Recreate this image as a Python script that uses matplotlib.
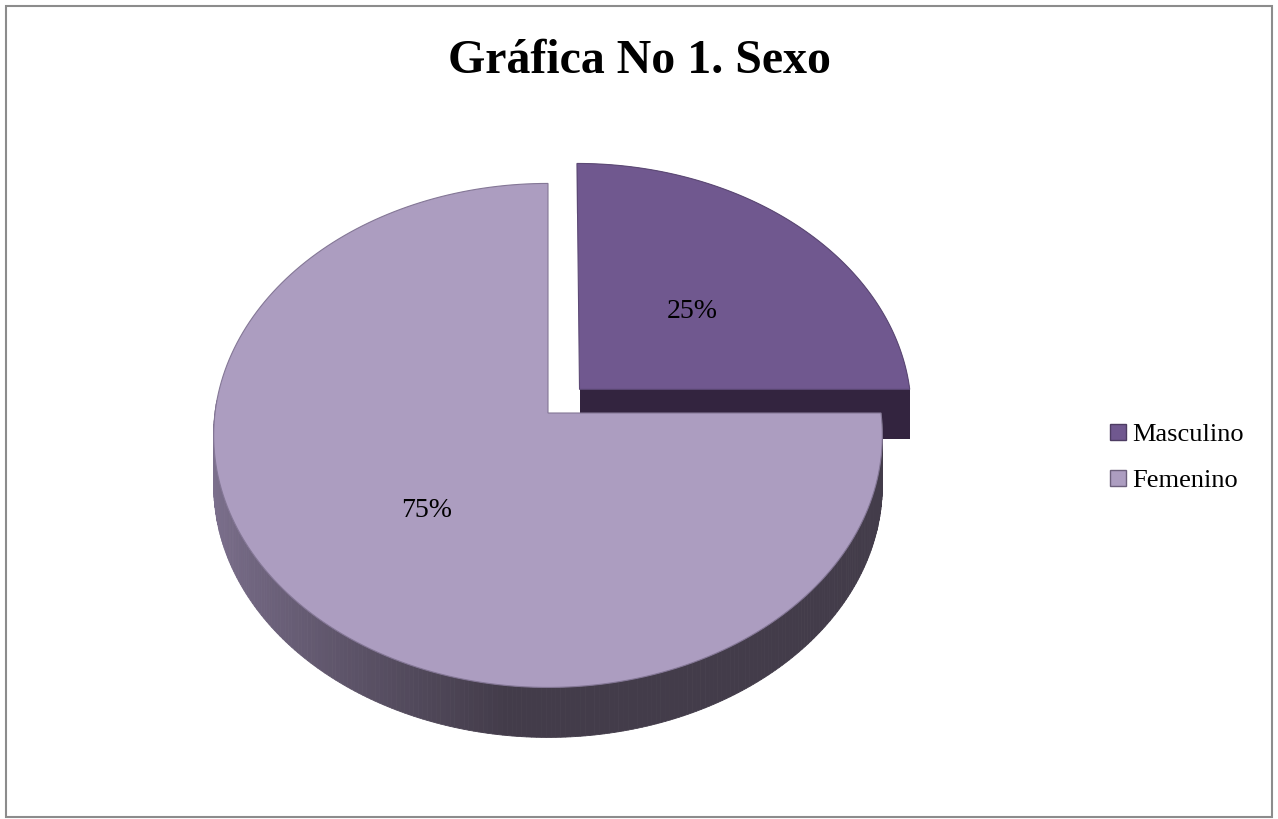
import numpy as np
import matplotlib
matplotlib.use('Agg')
import matplotlib.pyplot as plt
from matplotlib.patches import Polygon, Patch, Rectangle

# Chart data
categories = ['Masculino', 'Femenino']
values = [25, 75]
top_colors = ['#70588F', '#AC9DC0']
side_colors = ['#33243F', '#433C4A']
explode = [0.135, 0.0]
title = 'Gráfica No 1. Sexo'

W, H = 1278, 819
fig = plt.figure(figsize=(W / 100, H / 100), dpi=100)
ax = fig.add_axes([0, 0, 1, 1])
ax.set_xlim(0, W)
ax.set_ylim(H, 0)
ax.axis('off')

# 3D pie geometry (pixel space, y down)
cx, cy = 548, 413
A, B = 333, 250      # horizontal / vertical radius of the top face
k = 0.089            # perspective strength
depth = 50


def project(u, v, drop=0.0):
    s = 1.0 / (1.0 - k * v)
    return cx + A * u * s, cy + B * v * s + drop


def rim(phi, du, dv, drop=0.0):
    # phi measured clockwise from 12 o'clock
    u = np.sin(phi) + du
    v = -np.cos(phi) + dv
    return project(u, v, drop)


def lerp_color(c1, c2, t):
    c1 = np.array(matplotlib.colors.to_rgb(c1))
    c2 = np.array(matplotlib.colors.to_rgb(c2))
    return tuple(c1 + (c2 - c1) * t)


fracs = np.array(values, dtype=float) / sum(values)
starts = np.concatenate([[0], np.cumsum(fracs)[:-1]]) * 2 * np.pi
ends = np.cumsum(fracs) * 2 * np.pi

# draw the far slice first
for i in range(len(values)):
    a0, a1 = starts[i], ends[i]
    mid = (a0 + a1) / 2
    du, dv = explode[i] * np.sin(mid), -explode[i] * np.cos(mid)
    phis = np.linspace(a0, a1, 200)
    top = np.array([rim(p, du, dv) for p in phis])
    bot = np.array([rim(p, du, dv, depth) for p in phis])
    vt = np.array(project(du, dv))
    vb = np.array(project(du, dv, depth))

    if i == 0:
        # outer wall and the cut face toward the viewer
        ax.add_patch(Polygon(np.vstack([top, bot[::-1]]), closed=True,
                             fc=side_colors[i], ec='none'))
        face = np.array([vt, top[-1], bot[-1], vb])
        ax.add_patch(Polygon(face, closed=True, fc=side_colors[i], ec='none'))
    else:
        # curved wall with a left-to-right shading
        vis = np.linspace(np.pi / 2, 3 * np.pi / 2 + 0.05, 240)
        light = '#7B6F8C'
        for p0, p1 in zip(vis[:-1], vis[1:]):
            q = np.array([rim(p0, du, dv), rim(p1, du, dv),
                          rim(p1, du, dv, depth), rim(p0, du, dv, depth)])
            xm = q[:, 0].mean()
            t = np.clip((xm - 215) / 290, 0, 1) ** 0.8
            c = lerp_color(light, side_colors[i], t)
            ax.add_patch(Polygon(q, closed=True, fc=c, ec=c, lw=0.6))

    ax.add_patch(Polygon(np.vstack([vt, top]), closed=True, fc=top_colors[i],
                         ec=lerp_color(top_colors[i], '#3a2f48', 0.35), lw=0.8))

    # value label at half radius
    u = 0.5 * np.sin(mid) + du
    v = -0.5 * np.cos(mid) + dv
    tx, ty = project(u, v)
    ax.text(tx, ty + 6, f'{values[i]}%', ha='center', va='center',
            fontsize=20, family='Liberation Serif', color='black')

ax.text(640, 73, title, ha='center', va='baseline', fontsize=34.5,
        fontweight='bold', family='Liberation Serif')

handles = [Patch(fc=top_colors[i], ec=lerp_color(top_colors[i], '#2a2035', 0.5), lw=1)
           for i in range(len(categories))]
fig.legend(handles, categories, loc='center left',
           bbox_to_anchor=(1110 / W, 1 - 458 / H), frameon=False,
           prop={'family': 'Liberation Serif', 'size': 19},
           handlelength=0.6, handleheight=0.6, handletextpad=0.25,
           labelspacing=0.88, borderpad=0, borderaxespad=0)

# chart area border
ax.add_patch(Rectangle((6, 6), W - 12, H - 8, fill=False, ec='#8c8c8c', lw=1.5))

fig.savefig('out.png', dpi=100)
